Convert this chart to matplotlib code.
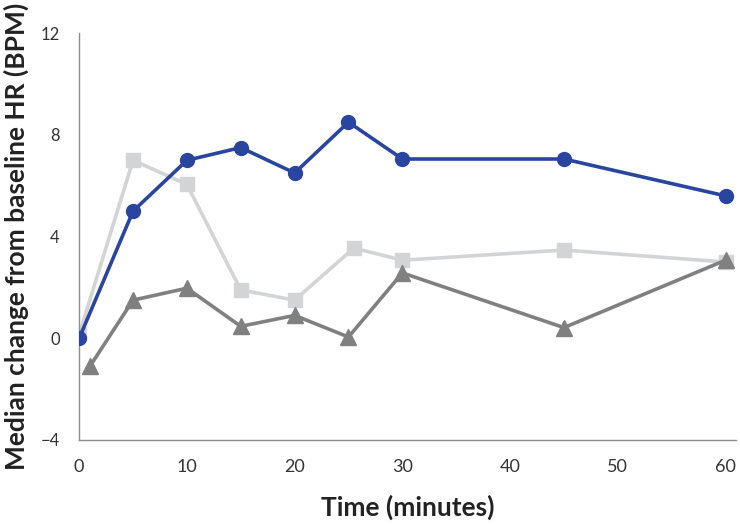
"""Median change from baseline HR over time, three series."""
import matplotlib
matplotlib.use("Agg")
import matplotlib.pyplot as plt

blue_x = [0, 5, 10, 15, 20, 25, 30, 45, 60]
blue_y = [0.0, 5.0, 7.0, 7.5, 6.5, 8.5, 7.05, 7.05, 5.6]

light_x = [0, 5, 10, 15, 20, 25.5, 30, 45, 60]
light_y = [0.15, 7.0, 6.05, 1.9, 1.5, 3.55, 3.07, 3.47, 3.0]

dark_x = [1, 5, 10, 15, 20, 25, 30, 45, 60]
dark_y = [-1.1, 1.5, 1.97, 0.47, 0.9, 0.05, 2.57, 0.42, 3.07]

x_ticks = [0, 10, 20, 30, 40, 50, 60]
y_ticks = [-4, 0, 4, 8, 12]

plt.rcParams.update({
    "font.family": ["Lato", "DejaVu Sans"],
    "axes.spines.top": False,
    "axes.spines.right": False,
})

fig = plt.figure(figsize=(7.4, 5.26), dpi=100)
ax = fig.add_axes([0.107, 0.1635, 0.888, 0.7735])

ax.plot(light_x, light_y, color="#d3d4d6", linewidth=2.6, marker="s",
        markersize=10, zorder=2)
ax.plot(dark_x, dark_y, color="#808080", linewidth=2.6, marker="^",
        markersize=11, zorder=3)
ax.plot(blue_x, blue_y, color="#2a45a0", linewidth=2.6, marker="o",
        markersize=10, zorder=4)

ax.set_xlim(0, 61)
ax.set_ylim(-4, 12)
ax.set_xticks(x_ticks)
ax.set_yticks(y_ticks)
ax.tick_params(axis="x", length=0, labelsize=13, colors="#333333", pad=14)
ax.tick_params(axis="y", length=0, labelsize=12, colors="#333333", pad=14)
for side in ("left", "bottom"):
    ax.spines[side].set_color("#8c8c8c")
    ax.spines[side].set_linewidth(1.0)

ax.set_xlabel("Time (minutes)", fontsize=19, fontweight="bold",
              color="#222222", labelpad=14)
ax.set_ylabel("Median change from baseline HR (BPM)", fontsize=19,
              fontweight="bold", color="#222222", labelpad=8)

fig.savefig("out.png", dpi=100)
